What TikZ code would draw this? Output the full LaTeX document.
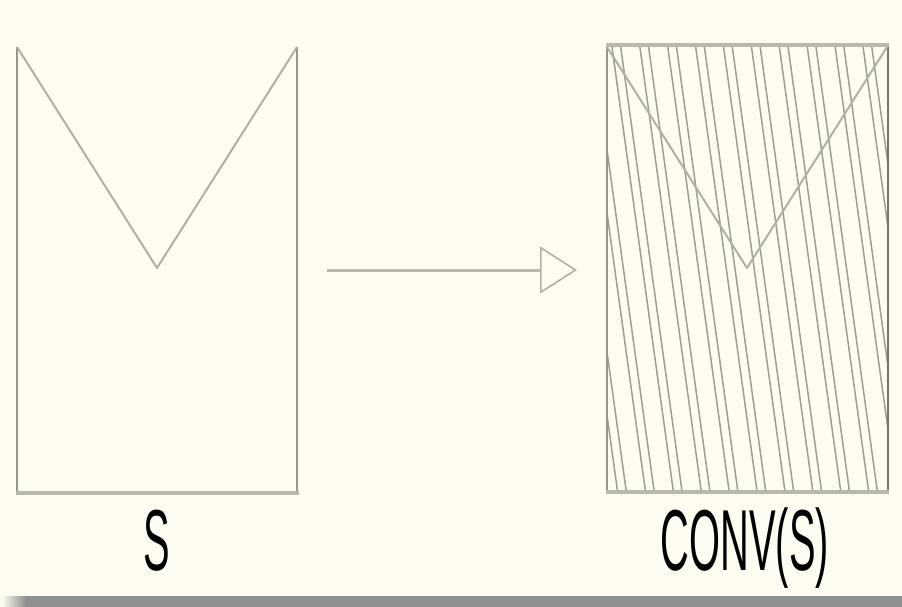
\documentclass[tikz,border=0pt]{standalone}
\usepackage{fontspec}
\setmainfont{Liberation Sans}
\usetikzlibrary{arrows.meta}
\definecolor{bg}{HTML}{FEFCF0}
\definecolor{edgec}{HTML}{96968E}
\definecolor{darkedge}{HTML}{76766F}
\definecolor{vcol}{HTML}{B0B0A5}
\definecolor{barc}{HTML}{B8B8AE}
\definecolor{hatchc}{HTML}{9E9E96}
\definecolor{shadowc}{HTML}{8F8F8F}
\tikzset{
  side/.style={draw=edgec, line width=2pt},
  rside/.style={draw=darkedge, line width=2pt},
  vline/.style={draw=vcol, line width=2pt, line join=round},
  bar/.style={draw=barc, line width=4pt},
  hatch/.style={draw=hatchc, line width=1.5pt},
  conn/.style={draw=barc, line width=3pt,
    -{Triangle[open, length=37pt, width=47pt, line width=1.6pt, color=vcol]}},
  lab/.style={inner sep=0pt, anchor=base, font=\fontsize{86.6}{90}\selectfont, xscale=0.46}
}
\begin{document}
\begin{tikzpicture}[x=1pt, y=-1pt]
\useasboundingbox (0,0) rectangle (902,607);
\fill[bg] (0,0) rectangle (902,607);
% bottom shadow bar
\fill[shadowc] (25,596) rectangle (902,607);
\shade[left color=bg, right color=shadowc] (2,596) rectangle (25.5,607);
% left shape S
\draw[bar] (16,492.5) -- (298.5,492.5);
\draw[side] (17,47) -- (17,491);
\draw[side] (297,47) -- (297,491);
\draw[vline] (17,47) -- (157,268) -- (297,47);
\node[lab] (s) at (157,570) {S};
% right shape CONV(S)
\begin{scope}
\clip (607,46) rectangle (888,491);
\foreach \k in {-3,...,10}{
  \pgfmathsetmacro{\xa}{612+27.9*\k}
  \pgfmathsetmacro{\xb}{620.7+27.9*\k}
  \draw[hatch] ({\xa-6.5},0) -- ({\xa+65.3},520);
  \draw[hatch] ({\xb-6.5},0) -- ({\xb+65.3},520);
}
\end{scope}
\draw[bar] (606,45.5) -- (889,45.5);
\draw[bar] (606,491.5) -- (889,491.5);
\draw[side] (607,47) -- (607,490);
\draw[rside] (888,47) -- (888,490);
\draw[vline] (607,47) -- (747,268) -- (887,47);
\node[lab] (cs) at (745,570) {CONV(S)};
% arrow
\coordinate (a) at (327,270);
\coordinate (b) at (577,270);
\draw[conn] (a) -- (b);
\end{tikzpicture}
\end{document}
